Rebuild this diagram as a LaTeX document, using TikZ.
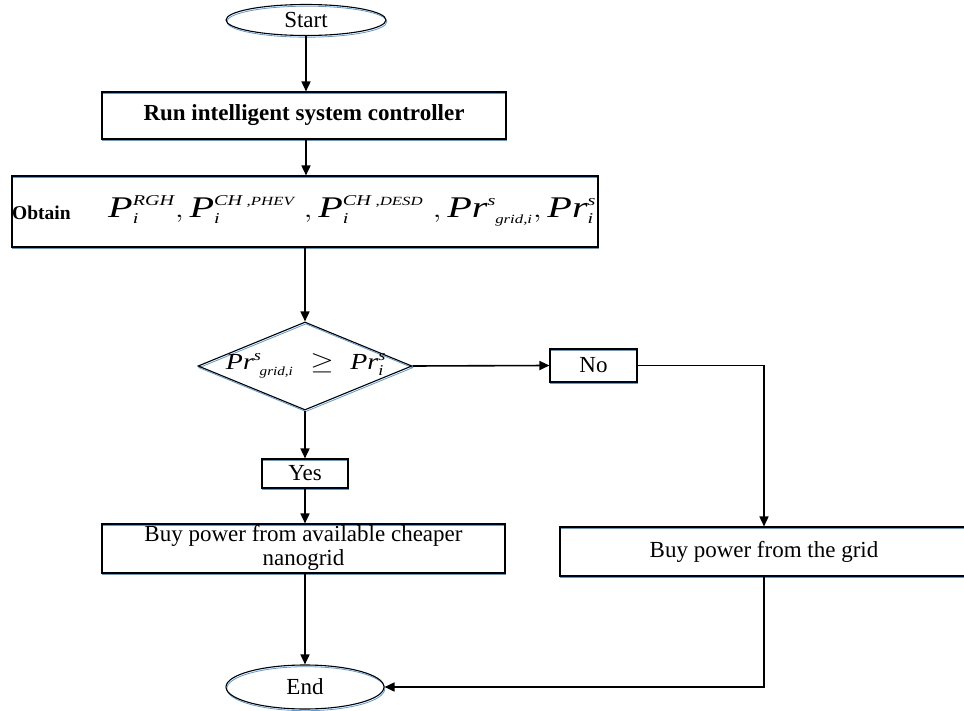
\documentclass[tikz,border=0pt]{standalone}
\usepackage{amsmath}
\usepackage{graphicx}
\usepackage{fontspec}
\setmainfont{Liberation Serif}
\usetikzlibrary{shapes.geometric,arrows.meta}
\definecolor{edgeblue}{RGB}{91,155,213}
% italic text pieces for the symbols, with explicit script sizes
\newcommand\ivar[1]{\textit{#1}}
\newcommand\iscr[1]{\text{\fontsize{15}{15}\selectfont\itshape #1}}
\newcommand\iscrs[1]{\text{\fontsize{12.5}{12.5}\selectfont\itshape #1}}
\begin{document}
\begin{tikzpicture}[x=1pt,y=-1pt,
  outline/.style={draw=black, line width=1.1pt,
    preaction={draw=edgeblue, line width=0.8pt, transform canvas={xshift=0.8pt,yshift=-1.7pt}}},
  stepbox/.style={rectangle, outline, inner sep=0pt, align=center,
    font=\fontsize{23}{25}\selectfont},
  termbox/.style={ellipse, outline, inner sep=0pt,
    font=\fontsize{23}{25}\selectfont},
  link/.style={line width=1.6pt, -{Triangle[length=10pt,width=9pt]}}]
\useasboundingbox (0,0) rectangle (964,711);

% terminals and process steps
\node[termbox, minimum width=160, minimum height=31] (start) at (306,20) {Start};
\node[stepbox, minimum width=404, minimum height=47] (run) at (304,115.5)
  {\bfseries Run intelligent system controller};
\node[stepbox, minimum width=586, minimum height=71] (obtain) at (305,211.5) {};
\node[anchor=west, inner sep=0pt] (obtainword) at (12,213)
  {\fontsize{19.5}{22}\selectfont\bfseries Obtain};
\node[anchor=west, inner sep=0pt] (obtaintext) at (108,211) {\fontsize{30}{34}\selectfont
  \resizebox{488pt}{\height}{%
  $\ivar{P}_{\iscr{i}}^{\iscr{RGH}}\mathrm{,}\,
   \ivar{P}_{\iscr{i}}^{\iscr{CH}\,\iscrs{,PHEV}}\;\mathrm{,}\,
   \ivar{P}_{\iscr{i}}^{\iscr{CH}\,\iscrs{,DESD}}\;\mathrm{,}\,
   \ivar{Pr}^{\iscr{s}}_{\;\iscrs{grid,i}}\mathrm{,}\,
   \ivar{Pr}_{\iscr{i}}^{\iscr{s}}$}};

% decision
\node[diamond, outline, inner sep=0pt, minimum width=214, minimum height=88] (dec) at (305,366) {};
\node[inner sep=0pt] (dectext) at (306,366) {\fontsize{23}{26}\selectfont
  \resizebox{160pt}{\height}{%
  $\ivar{Pr}^{\iscr{s}}_{\;\iscrs{grid,i}}\;\geq\;\ivar{Pr}_{\iscr{i}}^{\iscr{s}}$}};

\node[stepbox, minimum width=87, minimum height=33] (no) at (593.5,365.5) {No};
\node[stepbox, minimum width=86, minimum height=29] (yes) at (305,473.5) {Yes};

% outcomes
\node[stepbox, minimum width=403, minimum height=49] (cheap) at (303.5,548.5) {};
\node[align=center, inner sep=0pt, font=\fontsize{23}{23.5}\selectfont] (cheaptext) at (303.5,548)
  {Buy power from available cheaper\\nanogrid};
\node[stepbox, minimum width=408, minimum height=49] (grid) at (764,551.5)
  {Buy power from the grid};
\node[termbox, minimum width=158, minimum height=44] (end) at (305,687) {End};

% connectors
\draw[link] (start.south) -- (start.south |- run.north);
\draw[link] (run.south -| start.south) -- (start.south |- obtain.north);
\draw[link] (obtain.south) -- (dec.north);
\draw[link] (dec.east) -- (no.west);
\draw[link] (no.east) -| (grid.north);
\draw[link] (dec.south) -- (yes.north);
\draw[link] (yes.south) -- (yes.south |- cheap.north);
\draw[link] (yes.south |- cheap.south) -- (end.north);
\draw[link] (grid.south) |- (end.east);
\end{tikzpicture}
\end{document}
